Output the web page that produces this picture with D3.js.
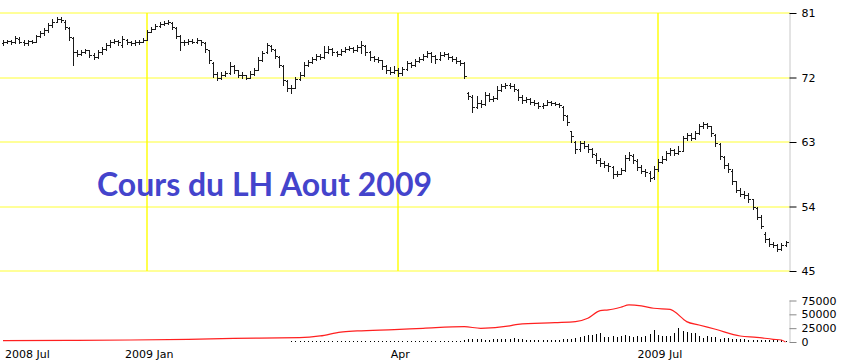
<!DOCTYPE html>
<html>
<head>
<meta charset="utf-8">
<script src="https://cdn.jsdelivr.net/npm/d3@7"></script>
<style>
  body { margin: 0; background: #fff; }
  svg { display: block; }
  .lbl { font-family: "DejaVu Sans", Verdana, sans-serif; font-size: 11px; fill: #000; }
</style>
</head>
<body>
<svg width="848" height="363"></svg>
<script>
// LH August 2009 contract, daily OHLC bars
var opens = [
  76.8,77.0,77.1,76.9,77.4,77.0,76.8,77.1,77.0,77.8,
  78.2,78.6,79.3,79.8,80.2,79.8,78.9,77.5,75.5,75.3,
  75.6,75.8,75.2,74.9,75.5,76.0,76.5,77.0,77.1,76.6,
  77.3,77.0,76.8,76.9,77.0,77.3,78.4,78.8,79.2,79.4,
  79.6,79.6,78.9,77.8,77.0,76.9,77.1,77.0,77.2,76.8,
  75.8,74.0,72.5,72.0,72.4,72.6,73.6,73.0,72.4,72.3,
  72.0,72.5,73.1,74.5,75.5,76.4,75.9,74.9,73.6,71.5,
  70.6,70.6,71.8,72.4,73.8,74.2,74.6,75.0,74.9,75.6,
  76.0,75.5,75.3,75.7,76.0,76.1,75.9,76.2,76.4,75.5,
  74.8,74.6,74.4,73.6,73.0,72.8,73.1,72.6,73.2,74.0,
  73.8,74.3,74.6,75.0,75.4,75.0,74.6,75.2,75.3,74.9,
  74.6,74.3,74.0,69.8,69.3,67.9,68.5,68.3,69.6,69.0,
  69.1,70.3,70.8,71.0,70.8,70.3,69.3,68.8,69.0,68.6,
  68.4,68.0,68.2,68.6,68.4,68.3,67.9,66.6,64.5,63.0,
  62.0,62.8,62.5,62.0,61.2,60.5,60.0,59.8,59.5,58.5,
  58.6,59.1,60.8,61.1,60.4,59.5,59.0,58.7,58.1,59.2,
  60.2,60.6,61.4,61.9,61.5,61.8,63.5,64.0,63.6,64.2,
  65.2,65.5,65.2,64.0,62.7,60.9,59.8,59.0,57.5,56.3,
  55.8,55.6,55.0,53.8,52.6,50.2,49.4,48.8,48.6,48.1,
  48.6
];
var highs = [
  77.3,77.3,77.2,77.8,77.6,77.2,77.3,77.3,78.0,78.5,
  78.9,79.6,80.1,80.5,80.4,80.0,79.0,77.6,75.9,75.9,
  76.0,75.9,75.4,75.8,76.3,76.8,77.3,77.4,77.2,77.8,
  77.4,77.1,77.2,77.3,77.5,78.6,79.1,79.4,79.7,79.9,
  80.0,79.8,79.0,77.9,77.3,77.4,77.4,77.5,77.3,77.0,
  75.9,74.1,72.8,72.7,72.9,74.2,73.7,73.1,72.7,72.4,
  72.9,73.3,74.8,75.7,76.8,76.6,76.0,75.0,73.7,71.7,
  71.0,72.1,72.7,74.1,74.5,74.9,75.3,75.3,76.4,76.4,
  76.1,75.7,76.0,76.3,76.4,76.2,76.5,77.1,76.6,75.7,
  75.0,74.8,74.5,73.8,73.4,73.6,73.3,73.5,74.3,74.2,
  74.6,74.9,75.3,75.7,75.6,75.2,75.5,75.6,75.4,75.0,
  74.8,74.5,74.2,70.0,69.5,69.4,68.9,70.0,69.8,69.4,
  70.8,71.1,71.3,71.2,71.1,70.4,69.5,69.3,69.2,68.9,
  68.6,68.5,68.8,68.7,68.6,68.4,68.0,66.8,64.6,63.2,
  63.2,63.1,62.7,62.1,61.4,60.8,60.4,60.0,59.6,58.9,
  59.4,61.2,61.6,61.3,60.6,59.8,59.3,58.9,59.6,60.6,
  61.0,61.7,62.2,62.0,62.4,63.8,64.3,64.2,64.5,65.5,
  65.8,65.7,65.3,64.1,62.8,61.1,60.0,59.2,57.6,56.6,
  56.2,55.9,55.1,53.9,52.8,50.4,49.6,49.0,48.7,48.9,
  49.2
];
var lows = [
  76.6,76.8,76.7,76.8,76.8,76.6,76.6,76.8,76.9,77.6,
  78.0,78.4,79.1,79.7,79.8,78.8,77.3,73.8,75.0,75.1,
  75.4,74.9,74.6,74.7,75.3,75.8,76.3,76.8,76.6,76.3,
  76.7,76.5,76.6,76.7,76.9,77.2,78.3,78.7,79.0,79.3,
  79.4,78.7,77.5,75.8,76.6,76.7,76.8,76.8,76.6,75.6,
  74.0,72.1,71.6,71.8,72.2,72.5,72.6,72.1,71.9,71.8,
  71.9,72.4,73.0,74.3,75.4,75.7,74.7,73.5,70.9,70.1,
  69.9,70.5,71.6,72.2,73.6,74.0,74.4,74.6,74.7,75.4,
  75.2,75.0,75.1,75.5,75.8,75.6,75.7,75.4,75.2,74.5,
  74.3,74.1,73.2,72.6,72.5,72.6,72.2,72.4,73.0,73.5,
  73.6,74.1,74.5,74.9,74.2,74.0,74.5,75.0,74.6,74.3,
  74.0,73.7,72.0,69.0,67.2,67.7,67.9,68.2,68.7,68.7,
  69.0,70.1,70.6,70.5,70.1,68.9,68.5,68.6,68.3,68.1,
  67.7,67.8,68.1,68.2,68.1,67.9,66.0,65.4,63.0,61.5,
  61.8,62.1,61.6,60.9,60.0,59.6,59.5,59.0,58.0,58.2,
  58.5,59.0,60.5,60.1,59.1,58.7,58.3,57.6,57.9,59.0,
  60.0,60.5,61.2,61.2,61.3,61.7,63.3,63.3,63.4,64.1,
  65.0,64.9,63.8,62.5,60.6,59.4,58.8,57.2,56.0,55.4,
  55.2,54.6,53.6,52.2,51.0,49.0,48.5,48.3,47.8,48.0,
  48.5
];
var closes = [
  77.0,77.1,76.9,77.5,77.0,76.8,77.1,77.0,77.8,78.2,
  78.6,79.3,79.8,80.2,80.0,79.0,77.6,75.5,75.3,75.6,
  75.8,75.2,74.9,75.5,76.0,76.5,77.0,77.1,76.9,77.4,
  77.0,76.8,76.9,77.0,77.2,78.4,78.8,79.2,79.4,79.6,
  79.7,79.0,77.8,77.0,76.9,77.1,77.0,77.2,76.9,76.0,
  74.5,72.5,72.0,72.4,72.6,73.6,73.0,72.4,72.3,72.0,
  72.5,73.0,74.5,75.4,76.5,76.0,75.0,73.8,71.6,70.6,
  70.5,71.8,72.4,73.8,74.2,74.6,75.0,74.9,75.6,76.0,
  75.5,75.3,75.7,76.0,76.1,75.9,76.2,76.5,75.5,74.8,
  74.6,74.4,73.6,73.0,72.8,73.1,72.6,73.2,74.0,73.8,
  74.3,74.6,75.0,75.4,75.0,74.6,75.2,75.3,74.9,74.6,
  74.3,74.0,72.2,69.4,67.9,68.5,68.3,69.6,69.0,69.1,
  70.3,70.8,71.0,70.8,70.4,69.3,68.8,69.0,68.6,68.4,
  68.0,68.2,68.6,68.4,68.3,68.1,66.8,65.8,63.8,62.0,
  62.8,62.5,62.0,61.3,60.5,60.0,59.8,59.6,58.5,58.6,
  59.1,60.8,61.2,60.5,59.5,59.0,58.8,58.0,59.2,60.2,
  60.6,61.4,61.9,61.5,61.8,63.5,64.0,63.6,64.2,65.2,
  65.5,65.3,64.2,62.8,61.0,59.8,59.2,57.6,56.3,55.8,
  55.6,55.0,54.0,52.6,51.3,49.4,48.8,48.6,48.1,48.6,
  49.0
];

// volume bars begin at bar 70
var volStart = 70;
var volumes = [
  900,1000,900,1100,1000,1200,1000,1300,1100,1000,
  1200,1500,1000,1100,1200,1000,1300,1100,1000,1200,
  1100,1300,1000,1200,1400,1100,1300,1200,1500,1300,
  1400,1500,1600,1800,1500,2000,1700,1800,1600,1900,
  1700,2200,4200,5400,6000,5400,4800,4200,3600,4800,
  4800,6000,4800,6000,7000,6000,4800,4200,3000,3000,
  3000,3000,3000,3000,3200,3500,6000,6000,6000,7000,
  9000,10800,12000,13000,15000,16300,9000,9000,10300,9000,
  10000,13000,10000,9000,10000,9500,11500,14000,21000,13000,
  11000,11500,10000,16300,26000,19300,18500,16500,16500,10000,
  7000,10000,9000,9000,6000,7000,7000,6000,6000,4800,
  4800,4200,4200,3600,3000,3000,3000,3000,3600,3000,
  1800
];

// open interest (red line), read at these bar positions
var oiIdx = [0,16,31,45,56,72,77,82,86,95,102,112,116,123,125,134,139,142,145,147,
             150,152,155,158,162,163,166,169,173,179,183,187,189,190];
var oiVal = [2400,2900,3600,4800,6700,7800,10900,18000,20000,22500,24800,27700,24800,29000,32000,35000,36800,43000,56700,58000,
             62800,67000,65200,61000,59000,55000,36800,30800,23000,10900,8500,4900,3600,0];

var priceTicks = [45, 54, 63, 72, 81];
var volTicks = [0, 25000, 50000, 75000];
var monthIdx = [0, 35, 96, 159];
var monthLabels = ["2008 Jul", "2009 Jan", "Apr", "2009 Jul"];
var title = "Cours du LH Aout 2009";

var svg = d3.select("svg"),
  axisX = 790,
  gridColor = "#ffff33";

var x = d3.scaleLinear().domain([0, closes.length - 1]).range([3, 785.5]);
var y = d3.scaleLinear().domain([45, 81]).range([271, 13]);
var yv = d3.scaleLinear().domain([0, 75000]).range([342, 300.5]);

function px(v) { return Math.round(v) + 0.5; }

// horizontal grid: on whole pixels, so it spreads pale over two rows
svg.append("g")
  .selectAll("line")
  .data(priceTicks)
  .enter()
  .append("line")
  .attr("x1", 0).attr("x2", axisX)
  .attr("y1", function (d) { return Math.round(y(d)); })
  .attr("y2", function (d) { return Math.round(y(d)); })
  .attr("stroke", gridColor);

// vertical grid at month starts
svg.append("g")
  .selectAll("line")
  .data(monthIdx.slice(1))
  .enter()
  .append("line")
  .attr("x1", function (d) { return Math.round(x(d)); })
  .attr("x2", function (d) { return Math.round(x(d)); })
  .attr("y1", y(81)).attr("y2", y(45))
  .attr("stroke", "#ffff00")
  .attr("stroke-width", 1.4);

// price axis (right)
var priceAxis = svg.append("g")
  .attr("transform", "translate(" + (axisX - 0.5) + ",0)")
  .call(d3.axisRight(y).tickValues(priceTicks).tickSize(7).tickPadding(5));
priceAxis.select(".domain").attr("stroke", "#c8c8c8").attr("d", "M0.5," + y(81) + "V" + y(45));
priceAxis.selectAll(".tick line").attr("stroke", "#000");
priceAxis.selectAll("text").attr("class", "lbl").attr("font-size", null).attr("font-family", null);

// volume axis (right)
var volAxis = svg.append("g")
  .attr("transform", "translate(" + (axisX - 0.5) + ",0)")
  .call(d3.axisRight(yv).tickValues(volTicks).tickSize(7).tickPadding(5).tickFormat(d3.format("d")));
volAxis.select(".domain").attr("stroke", "#c8c8c8").attr("d", "M0.5," + yv(75000) + "V" + yv(0));
volAxis.selectAll(".tick line").attr("stroke", "#888");
volAxis.selectAll("text").attr("class", "lbl").attr("font-size", null).attr("font-family", null);

// OHLC bars
var bars = svg.append("g")
  .attr("stroke", "#1a1a1a")
  .attr("stroke-width", 1)
  .attr("fill", "none")
  .attr("shape-rendering", "crispEdges");

bars.selectAll("path")
  .data(closes)
  .enter()
  .append("path")
  .attr("d", function (c, i) {
    var xi = px(x(i)),
      yh = Math.round(y(highs[i])),
      yl = Math.round(y(lows[i])),
      yo = px(y(opens[i])),
      yc = px(y(closes[i]));
    if (yl - yh < 1) yl = yh + 1;
    return "M" + xi + "," + yh + "V" + (yl + 1) +
      "M" + (xi - 2) + "," + yo + "H" + xi +
      "M" + xi + "," + yc + "H" + (xi + 2);
  });

// volume bars
svg.append("g")
  .attr("stroke", "#000")
  .attr("shape-rendering", "crispEdges")
  .selectAll("line")
  .data(volumes)
  .enter()
  .append("line")
  .attr("x1", function (d, i) { return px(x(i + volStart)); })
  .attr("x2", function (d, i) { return px(x(i + volStart)); })
  .attr("y1", yv(0))
  .attr("y2", function (d) { return Math.min(yv(0) - 1, yv(d)); });

// open interest line
var oiLine = d3.line()
  .x(function (d, i) { return x(oiIdx[i]); })
  .y(function (d) { return yv(d); })
  .curve(d3.curveMonotoneX);

svg.append("path")
  .datum(oiVal)
  .attr("d", oiLine)
  .attr("fill", "none")
  .attr("stroke", "#ff2020")
  .attr("stroke-width", 1.2);

// month labels
svg.append("g")
  .selectAll("text")
  .data(monthLabels)
  .enter()
  .append("text")
  .attr("class", "lbl")
  .attr("x", function (d, i) { return i === 0 ? 5 : x(monthIdx[i]) + 2; })
  .attr("y", 358)
  .attr("text-anchor", function (d, i) { return i === 0 ? "start" : "middle"; })
  .text(function (d) { return d; });

// title
svg.append("text")
  .attr("x", 97)
  .attr("y", 196)
  .attr("font-family", "Lato, 'Open Sans', sans-serif")
  .attr("font-weight", "bold")
  .attr("font-size", 32)
  .attr("fill", "#4444cc")
  .attr("textLength", 335)
  .attr("lengthAdjust", "spacingAndGlyphs")
  .text(title);
</script>
</body>
</html>
